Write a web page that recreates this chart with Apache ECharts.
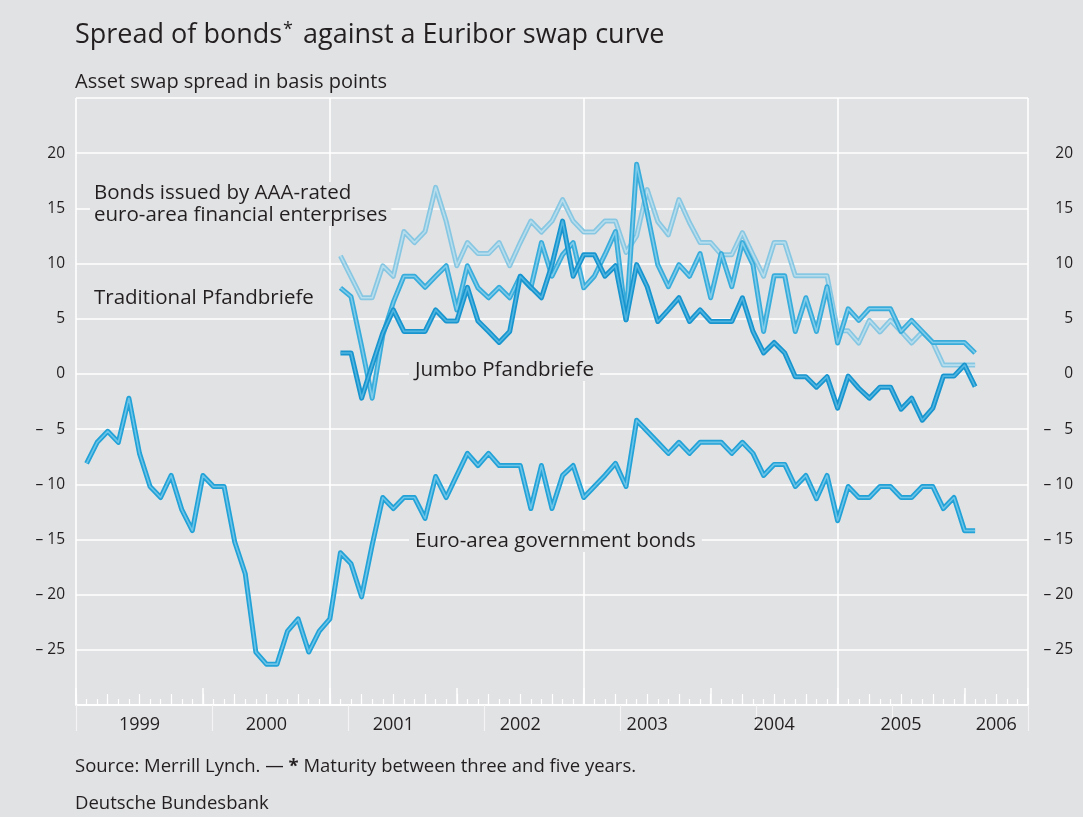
<!DOCTYPE html>
<html>
<head>
<meta charset="utf-8">
<script src="https://cdn.jsdelivr.net/npm/echarts@6/dist/echarts.min.js"></script>
<style>
html,body{margin:0;padding:0;background:#e1e2e4;}
#chart{width:1083px;height:817px;}
</style>
</head>
<body>
<div id="chart"></div>
<script>
// Month-end observations; index 0 = January 1999
var yearLabels = ['1999','2000','2001','2002','2003','2004','2005','2006'];
var yTicks = [-25,-20,-15,-10,-5,0,5,10,15,20];

// Euro-area government bonds, Jan 1999 - Jan 2006
var govBonds = [-8.1,-6.2,-5.2,-6.2,-2.2,-7.2,-10.2,-11.2,-9.2,-12.3,-14.2,-9.2,
  -10.2,-10.2,-15.2,-18.1,-25.2,-26.3,-26.3,-23.3,-22.2,-25.2,-23.3,-22.2,
  -16.2,-17.2,-20.2,-15.5,-11.2,-12.2,-11.2,-11.2,-13.1,-9.3,-11.2,-9.2,
  -7.2,-8.3,-7.2,-8.3,-8.3,-8.3,-12.2,-8.3,-12.2,-9.2,-8.3,-11.2,
  -10.2,-9.2,-8.1,-10.2,-4.2,-5.2,-6.2,-7.2,-6.2,-7.2,-6.2,-6.2,
  -6.2,-7.2,-6.2,-7.2,-9.2,-8.2,-8.2,-10.2,-9.2,-11.3,-9.2,-13.3,
  -10.2,-11.2,-11.2,-10.2,-10.2,-11.2,-11.2,-10.2,-10.2,-12.2,-11.2,-14.2,
  -14.2];

// The following series start in January 2001 (index 24)
var otherStart = 24;
var aaaFinancial = [10.7,8.8,6.9,6.9,9.8,8.85,12.9,11.9,12.9,16.9,13.8,9.8,
  11.9,10.9,10.9,11.9,9.8,11.9,13.85,12.85,13.85,15.8,13.85,12.85,
  12.85,13.85,13.85,11.0,12.5,16.7,13.8,12.6,15.8,13.7,11.9,11.9,
  10.8,10.8,12.8,10.8,8.85,11.9,11.9,8.9,8.9,8.9,8.9,3.9,
  3.9,2.8,4.85,3.8,4.85,3.85,2.8,3.8,2.85,0.8,0.8,0.8,
  0.8];
var traditional = [7.8,7.0,2.5,-2.2,3.5,6.5,8.85,8.85,7.85,8.85,9.8,5.8,
  9.8,7.8,6.9,7.85,6.9,8.85,7.8,11.9,8.85,10.8,11.9,7.8,
  8.85,10.8,12.9,4.9,19.0,14.6,9.9,7.9,9.9,8.85,10.9,6.9,
  10.9,7.9,11.9,9.9,3.85,8.9,8.9,3.85,6.9,3.85,7.9,2.8,
  5.9,4.85,5.9,5.9,5.9,3.85,4.85,3.85,2.85,2.85,2.85,2.85,
  1.9];
var jumbo = [1.9,1.9,-2.2,0.8,3.7,5.8,3.85,3.85,3.85,5.8,4.8,4.8,
  7.85,4.8,3.85,2.85,3.85,8.85,7.85,6.9,9.9,13.85,8.85,10.8,
  10.8,8.85,9.8,4.9,9.9,7.9,4.75,5.8,6.9,4.75,5.8,4.75,
  4.75,4.75,6.9,3.85,1.9,2.85,1.9,-0.25,-0.25,-1.2,-0.25,-3.1,
  -0.2,-1.3,-2.2,-1.2,-1.2,-3.2,-2.2,-4.2,-3.1,-0.2,-0.2,0.8,
  -1.15];

var seriesNames = ['Euro-area government bonds','Bonds issued by AAA-rated euro-area financial enterprises','Traditional Pfandbriefe','Jumbo Pfandbriefe'];

function toPoints(arr, start) {
  // x = months elapsed since 1 Jan 1999 at month end
  return arr.map(function (v, i) { return [start + i + 1, v]; });
}

var FONT = 'Open Sans';
var TXT = '#231f20';
var BG = '#e1e2e4';

function lineSeries(name, data, outer, inner, z) {
  return [
    {name: name, type: 'line', data: data, xAxisIndex: 0, yAxisIndex: 0, symbol: 'none',
     lineStyle: {color: outer, width: 5, join: 'round', cap: 'butt'}, z: z, silent: true, animation: false},
    {name: name + ' ', type: 'line', data: data, xAxisIndex: 0, yAxisIndex: 0, symbol: 'none',
     lineStyle: {color: inner, width: 1.6, join: 'round'}, z: z + 0.5, silent: true, animation: false}
  ];
}

function yLabel(v) {
  if (yTicks.indexOf(v) < 0) return '';
  if (v < 0) {
    var a = Math.abs(v);
    return '\u2013 ' + (a < 10 ? '\u2007' : '') + a;
  }
  return String(v);
}

function tickAxis(interval, len, inside, width, color, max) {
  return {type: 'value', gridIndex: 0, min: 0, max: max || 90, interval: interval, position: 'bottom',
    axisLine: {show: false, onZero: false},
    axisTick: {show: true, inside: inside, length: len, lineStyle: {color: color, width: width}},
    axisLabel: {show: false}, splitLine: {show: false}};
}

var chart = echarts.init(document.getElementById('chart'), null, {renderer: 'canvas'});

var series = [].concat(
  lineSeries(seriesNames[0], toPoints(govBonds, 0), '#22a2d7', '#6cc4e8', 3),
  lineSeries(seriesNames[1], toPoints(aaaFinancial, otherStart), '#88c7e2', '#b8deee', 4),
  lineSeries(seriesNames[2], toPoints(traditional, otherStart), '#38acdb', '#7fcbe9', 5),
  lineSeries(seriesNames[3], toPoints(jumbo, otherStart), '#1895ce', '#50b5e0', 6)
);

var yearAxis = tickAxis(3, 11, true, 1.2, '#ffffff');
yearAxis.axisLabel = {show: true, margin: 11, color: TXT, fontSize: 18, fontFamily: FONT,
  formatter: function (v) {
    if (v % 12 === 6) return yearLabels[(v - 6) / 12];
    if (v === 87) return yearLabels[7];
    return '';
  }};

var mainX = {type: 'value', gridIndex: 0, min: 0, max: 90, interval: 24, position: 'bottom',
  axisLine: {show: true, onZero: false, lineStyle: {color: '#ffffff', width: 2}},
  axisTick: {show: false}, axisLabel: {show: false},
  splitLine: {show: true, lineStyle: {color: '#ffffff', width: 1.6}}};

var option = {
  backgroundColor: BG,
  animation: false,
  textStyle: {fontFamily: FONT},
  grid: [{left: 76, right: 55, top: 98, bottom: 112}],
  xAxis: [
    mainX,
    tickAxis(1, 6, true, 1.2, '#ffffff'),
    yearAxis,
    tickAxis(12, 17, true, 1.5, '#ffffff'),
    tickAxis(12, 26, false, 1.2, '#f4f4f5', 84)
  ],
  yAxis: [
    {type: 'value', gridIndex: 0, min: -30, max: 25, interval: 5, position: 'left',
     axisLine: {show: false}, axisTick: {show: false},
     axisLabel: {show: true, margin: 11, color: TXT, fontSize: 15.5, fontFamily: FONT, formatter: yLabel},
     splitLine: {show: true, lineStyle: {color: '#ffffff', width: 1.6}}},
    {type: 'value', gridIndex: 0, min: -30, max: 25, interval: 5, position: 'right',
     axisLine: {show: false}, axisTick: {show: false},
     axisLabel: {show: true, margin: 45, align: 'right', color: TXT, fontSize: 15.5, fontFamily: FONT, formatter: yLabel},
     splitLine: {show: false}}
  ],
  title: [
    {left: 75, top: 21, padding: 0, text: 'Spread of bonds{s|*} against a Euribor swap curve',
     textStyle: {fontFamily: FONT, fontSize: 27, fontWeight: 'normal', color: TXT,
       rich: {s: {fontFamily: FONT, fontSize: 18, color: TXT, verticalAlign: 'top', padding: [0, 3, 10, 1]}}}},
    {left: 75, top: 72, padding: 0, text: 'Asset swap spread in basis points',
     textStyle: {fontFamily: FONT, fontSize: 20, fontWeight: 'normal', color: TXT}},
    {left: 75, top: 757, padding: 0, text: 'Source: Merrill Lynch. \u2014 {b|*} Maturity between three and five years.',
     textStyle: {fontFamily: FONT, fontSize: 18.5, fontWeight: 'normal', color: TXT,
       rich: {b: {fontFamily: FONT, fontSize: 18.5, fontWeight: 'bold', color: TXT}}}},
    {left: 75, top: 794, padding: 0, text: 'Deutsche Bundesbank',
     textStyle: {fontFamily: FONT, fontSize: 18.5, fontWeight: 'normal', color: TXT}}
  ],
  graphic: [
    {type: 'text', left: 90, top: 182, z: 20,
     style: {text: 'Bonds issued by AAA-rated\neuro-area financial enterprises', fill: TXT,
       font: '20.5px "Open Sans"', lineHeight: 22, backgroundColor: BG, padding: [0, 4, 0, 4]}},
    {type: 'text', left: 90, top: 288, z: 20,
     style: {text: 'Traditional Pfandbriefe', fill: TXT, font: '20.5px "Open Sans"',
       backgroundColor: BG, padding: [0, 4, 0, 4]}},
    {type: 'text', left: 409, top: 360, z: 20,
     style: {text: 'Jumbo Pfandbriefe', fill: TXT, font: '20.5px "Open Sans"',
       backgroundColor: BG, padding: [0, 6, 0, 6]}},
    {type: 'text', left: 409, top: 531, z: 20,
     style: {text: 'Euro-area government bonds', fill: TXT, font: '20.5px "Open Sans"',
       backgroundColor: BG, padding: [0, 6, 0, 6]}}
  ],
  series: series
};

chart.setOption(option);
</script>
</body>
</html>
